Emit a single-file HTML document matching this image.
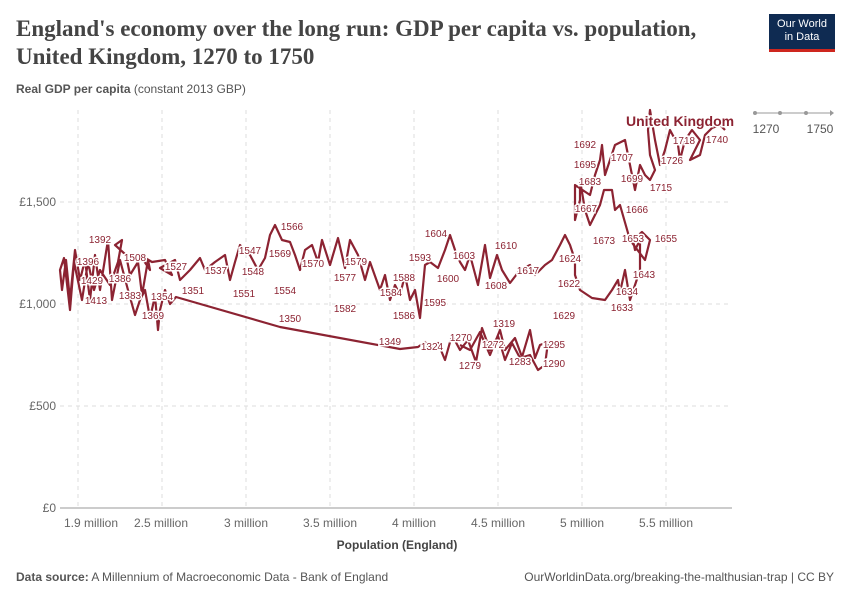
<!DOCTYPE html>
<html><head><meta charset="utf-8"><style>
body{margin:0;background:#fff;font-family:"Liberation Sans",sans-serif;}
.t{position:absolute;}
</style></head><body>
<div style="position:relative;width:850px;height:600px;overflow:hidden">
<div class="t" style="left:16px;top:15px;font-family:'Liberation Serif',serif;font-size:23px;font-weight:bold;color:#444;line-height:28px;white-space:nowrap">England's economy over the long run: GDP per capita vs. population,<br>United Kingdom, 1270 to 1750</div>
<div class="t" style="left:769px;top:14px;width:66px;height:38px;background:#0f2b52;color:#fff;font-size:11px;text-align:center;line-height:13px;padding-top:4px;box-sizing:border-box;border-bottom:3px solid #ce261e">Our World<br>in Data</div>
<div class="t" style="left:16px;top:82px;font-size:12px;color:#555"><b>Real GDP per capita</b> (constant 2013 GBP)</div>
<svg class="t" style="left:0;top:0" width="850" height="600">
<g stroke="#ddd" stroke-dasharray="4,4" stroke-width="1">
<line x1="60" x2="732" y1="406" y2="406"/><line x1="60" x2="732" y1="304" y2="304"/><line x1="60" x2="732" y1="202" y2="202"/>
<line x1="78" x2="78" y1="110" y2="508"/><line x1="162" x2="162" y1="110" y2="508"/><line x1="246" x2="246" y1="110" y2="508"/><line x1="330" x2="330" y1="110" y2="508"/><line x1="414" x2="414" y1="110" y2="508"/><line x1="498" x2="498" y1="110" y2="508"/><line x1="582" x2="582" y1="110" y2="508"/><line x1="666" x2="666" y1="110" y2="508"/>
</g>
<line x1="60" x2="732" y1="508" y2="508" stroke="#999"/>
<g font-size="12" fill="#666" text-anchor="end">
<text x="56" y="512">£0</text><text x="56" y="410">£500</text><text x="56" y="308">£1,000</text><text x="56" y="206">£1,500</text>
</g>
<g font-size="12" fill="#666" text-anchor="middle">
<text x="91" y="527">1.9 million</text><text x="161" y="527">2.5 million</text><text x="246" y="527">3 million</text><text x="330" y="527">3.5 million</text><text x="414" y="527">4 million</text><text x="498" y="527">4.5 million</text><text x="582" y="527">5 million</text><text x="666" y="527">5.5 million</text>
</g>
<text x="397" y="549" font-size="12" fill="#444" font-weight="bold" text-anchor="middle">Population (England)</text>
<polyline fill="none" stroke="#8c2332" stroke-width="2.2" stroke-linejoin="round" points="
460,345 470,350 480,332 490,355 500,330 505,350 515,338 522,357 530,330 535,358 540,345 548,342 545,365 538,370 530,355 520,358 512,343 505,360 498,336 490,350 482,328 476,362 468,340 460,350 452,335 445,360 438,343 430,350 425,342 418,347 400,349 280,327 176,297 170,304 165,290 160,310 158,330 155,296 150,318 145,290 140,300 135,315 128,290 120,260 112,300 108,240 100,290 95,255 90,300 85,260 80,280 75,250 70,300 66,260 62,290 60,270 64,258 70,310 74,262 82,300 88,262 94,290 100,270 110,285 118,262 122,240 115,245 126,255 130,275 138,262 142,295 148,260 150,270 140,255 152,262 165,260 172,275 160,268 175,260 180,280 190,270 200,258 205,270 215,262 225,255 230,280 235,262 240,245 250,255 258,270 265,258 270,235 275,225 282,240 290,242 295,255 300,270 305,250 312,245 318,262 322,240 330,265 338,238 345,268 350,240 358,255 365,280 370,262 380,290 385,275 390,300 395,285 400,295 405,275 410,300 415,290 420,318 425,265 430,262 438,268 445,250 450,235 455,250 460,262 465,270 470,255 478,285 485,245 490,278 497,255 502,270 510,283 520,270 530,265 535,275 545,265 552,260 560,245 565,235 570,245 575,260 575,275 580,290 592,298 605,300 612,290 618,280 620,292 625,270 630,300 635,285 640,270 640,240 635,250 633,240 642,232 650,240 645,260 630,240 620,205 615,210 612,190 604,190 600,205 590,225 585,210 580,180 580,200 575,220 575,185 590,195 595,175 600,160 602,145 605,175 610,160 615,145 625,140 630,165 635,190 640,165 645,175 650,180 655,170 650,155 648,130 650,110 655,140 660,165 665,150 670,130 678,145 680,160 685,140 692,130 700,140 695,150 690,160 700,155 705,135 712,128 720,125 725,130"/>
<g font-size="10" fill="#8c2332" text-anchor="middle" stroke="#fff" stroke-width="3" paint-order="stroke">
<text x="100" y="243">1392</text><text x="88" y="265">1396</text><text x="135" y="261">1508</text><text x="92" y="284">1429</text><text x="120" y="282">1386</text><text x="96" y="304">1413</text><text x="130" y="299">1383</text><text x="153" y="319">1369</text><text x="162" y="300">1354</text><text x="193" y="294">1351</text><text x="176" y="270">1527</text><text x="216" y="274">1537</text><text x="250" y="254">1547</text><text x="253" y="275">1548</text><text x="244" y="297">1551</text><text x="280" y="257">1569</text><text x="292" y="230">1566</text><text x="285" y="294">1554</text><text x="290" y="322">1350</text><text x="313" y="267">1570</text><text x="356" y="265">1579</text><text x="345" y="281">1577</text><text x="345" y="312">1582</text><text x="391" y="296">1584</text><text x="404" y="281">1588</text><text x="404" y="319">1586</text><text x="420" y="261">1593</text><text x="435" y="306">1595</text><text x="436" y="237">1604</text><text x="448" y="282">1600</text><text x="464" y="259">1603</text><text x="506" y="249">1610</text><text x="496" y="289">1608</text><text x="528" y="274">1617</text><text x="570" y="262">1624</text><text x="569" y="287">1622</text><text x="564" y="319">1629</text><text x="390" y="345">1349</text><text x="432" y="350">1324</text><text x="461" y="341">1270</text><text x="504" y="327">1319</text><text x="493" y="348">1272</text><text x="470" y="369">1279</text><text x="520" y="365">1283</text><text x="554" y="348">1295</text><text x="554" y="367">1290</text><text x="622" y="311">1633</text><text x="627" y="295">1634</text><text x="644" y="278">1643</text><text x="604" y="244">1673</text><text x="633" y="242">1653</text><text x="666" y="242">1655</text><text x="586" y="212">1667</text><text x="637" y="213">1666</text><text x="590" y="185">1683</text><text x="661" y="191">1715</text><text x="585" y="168">1695</text><text x="585" y="148">1692</text><text x="622" y="161">1707</text><text x="632" y="182">1699</text><text x="672" y="164">1726</text><text x="684" y="144">1718</text><text x="717" y="143">1740</text>
</g>
<text x="626" y="126" font-size="14" fill="#8c2332" font-weight="bold" stroke="#fff" stroke-width="3" paint-order="stroke">United Kingdom</text>
<line x1="755" y1="113" x2="833" y2="113" stroke="#999"/><circle cx="755" cy="113" r="2" fill="#999"/><circle cx="780" cy="113" r="2" fill="#999"/><circle cx="806" cy="113" r="2" fill="#999"/><path d="M830,110 L834,113 L830,116Z" fill="#999"/>
<text x="766" y="133" font-size="12" fill="#555" text-anchor="middle">1270</text><text x="820" y="133" font-size="12" fill="#555" text-anchor="middle">1750</text>
<text x="16" y="581" font-size="12" fill="#555"><tspan font-weight="bold">Data source:</tspan> A Millennium of Macroeconomic Data - Bank of England</text>
<text x="834" y="581" font-size="12" fill="#555" text-anchor="end">OurWorldinData.org/breaking-the-malthusian-trap | CC BY</text>
</svg>
</div>
</body></html>
